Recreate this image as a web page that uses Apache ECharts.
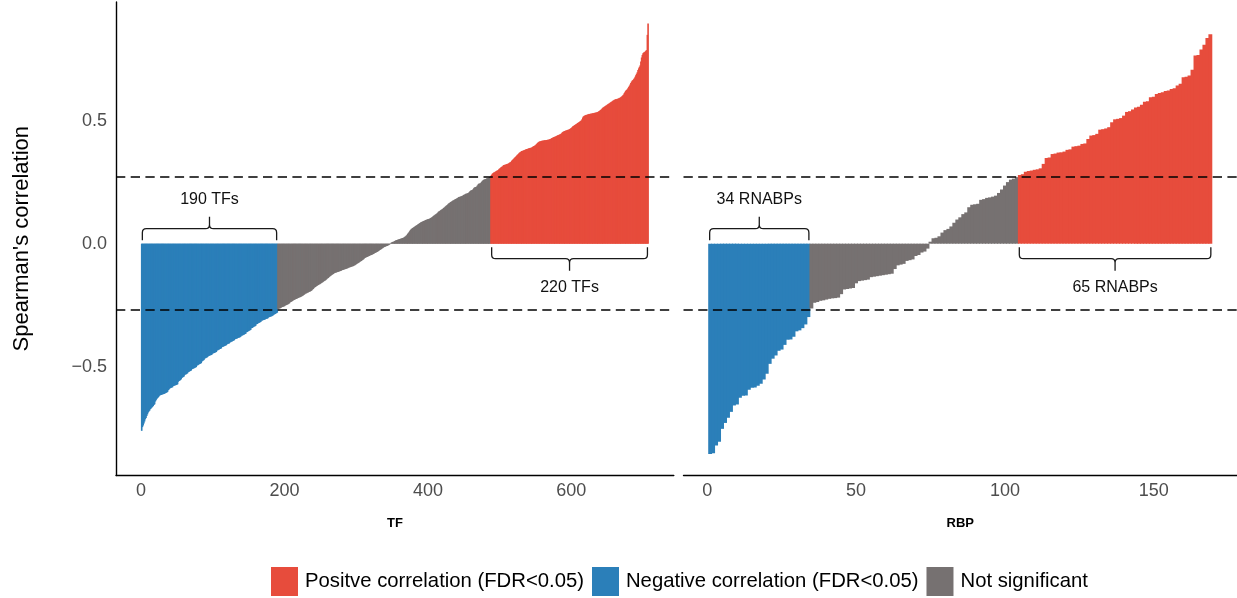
<!DOCTYPE html>
<html>
<head>
<meta charset="utf-8">
<script src="https://cdn.jsdelivr.net/npm/echarts@6/dist/echarts.min.js"></script>
<style>
  html, body { margin: 0; padding: 0; background: #ffffff; }
  #chart { width: 1237px; height: 598px; }
</style>
</head>
<body>
<div id="chart"></div>
<script>
// Ranked Spearman correlations, one bar per regulator, sorted ascending.
// TF panel: significant negative, not significant, significant positive.
const tfNegative = [
  -0.760,-0.745,-0.738,-0.730,-0.722,-0.713,-0.708,-0.700,-0.693,-0.686,
  -0.682,-0.678,-0.672,-0.669,-0.666,-0.663,-0.659,-0.655,-0.652,-0.641,
  -0.636,-0.631,-0.627,-0.624,-0.621,-0.617,-0.615,-0.614,-0.613,-0.612,
  -0.611,-0.610,-0.609,-0.607,-0.605,-0.604,-0.602,-0.595,-0.592,-0.589,
  -0.586,-0.585,-0.584,-0.583,-0.578,-0.577,-0.576,-0.575,-0.574,-0.573,
  -0.571,-0.561,-0.558,-0.556,-0.554,-0.551,-0.545,-0.543,-0.541,-0.539,
  -0.533,-0.531,-0.530,-0.528,-0.526,-0.521,-0.520,-0.518,-0.517,-0.515,
  -0.510,-0.509,-0.507,-0.506,-0.504,-0.503,-0.501,-0.495,-0.494,-0.492,
  -0.490,-0.489,-0.487,-0.485,-0.478,-0.476,-0.474,-0.471,-0.466,-0.465,
  -0.463,-0.462,-0.460,-0.456,-0.455,-0.454,-0.453,-0.452,-0.450,-0.446,
  -0.445,-0.444,-0.443,-0.441,-0.440,-0.434,-0.433,-0.431,-0.430,-0.428,
  -0.427,-0.425,-0.420,-0.419,-0.418,-0.416,-0.415,-0.414,-0.412,-0.408,
  -0.407,-0.406,-0.405,-0.401,-0.400,-0.398,-0.397,-0.395,-0.394,-0.392,
  -0.388,-0.387,-0.386,-0.385,-0.383,-0.382,-0.381,-0.380,-0.378,-0.374,
  -0.373,-0.372,-0.370,-0.369,-0.367,-0.366,-0.360,-0.359,-0.357,-0.355,
  -0.353,-0.352,-0.350,-0.343,-0.342,-0.340,-0.338,-0.336,-0.335,-0.333,
  -0.327,-0.326,-0.324,-0.322,-0.321,-0.319,-0.318,-0.313,-0.312,-0.311,
  -0.310,-0.309,-0.308,-0.306,-0.305,-0.304,-0.303,-0.299,-0.298,-0.297,
  -0.296,-0.295,-0.293,-0.292,-0.289,-0.287,-0.286,-0.284,-0.282,-0.280
];
const tfNeutral = [
  -0.266,-0.264,-0.263,-0.262,-0.261,-0.258,-0.257,-0.256,-0.255,-0.254,
  -0.251,-0.250,-0.249,-0.247,-0.246,-0.244,-0.242,-0.238,-0.237,-0.235,
  -0.233,-0.231,-0.229,-0.228,-0.226,-0.225,-0.224,-0.222,-0.221,-0.219,
  -0.218,-0.217,-0.216,-0.214,-0.212,-0.210,-0.208,-0.206,-0.203,-0.202,
  -0.201,-0.199,-0.198,-0.196,-0.195,-0.194,-0.192,-0.190,-0.187,-0.184,
  -0.181,-0.178,-0.176,-0.174,-0.172,-0.170,-0.168,-0.166,-0.165,-0.163,
  -0.161,-0.159,-0.157,-0.155,-0.153,-0.151,-0.149,-0.147,-0.144,-0.141,
  -0.139,-0.136,-0.134,-0.131,-0.129,-0.127,-0.125,-0.123,-0.121,-0.119,
  -0.118,-0.117,-0.116,-0.115,-0.114,-0.113,-0.112,-0.111,-0.110,-0.108,
  -0.107,-0.106,-0.105,-0.104,-0.103,-0.102,-0.101,-0.100,-0.098,-0.097,
  -0.096,-0.095,-0.094,-0.093,-0.092,-0.091,-0.089,-0.088,-0.086,-0.084,
  -0.082,-0.080,-0.078,-0.076,-0.074,-0.072,-0.070,-0.068,-0.066,-0.064,
  -0.061,-0.058,-0.057,-0.055,-0.054,-0.053,-0.051,-0.050,-0.048,-0.047,
  -0.046,-0.045,-0.043,-0.042,-0.040,-0.038,-0.037,-0.035,-0.034,-0.032,
  -0.030,-0.028,-0.026,-0.024,-0.022,-0.020,-0.018,-0.016,-0.014,-0.013,
  -0.011,-0.010,-0.009,-0.008,-0.006,-0.004,-0.002, 0.002, 0.004, 0.006,
   0.007, 0.008, 0.009, 0.011, 0.013, 0.014, 0.015, 0.016, 0.017, 0.018,
   0.019, 0.020, 0.021, 0.022, 0.023, 0.024, 0.026, 0.028, 0.030, 0.033,
   0.036, 0.040, 0.044, 0.048, 0.052, 0.056, 0.060, 0.062, 0.064, 0.066,
   0.068, 0.070, 0.072, 0.074, 0.076, 0.078, 0.080, 0.082, 0.084, 0.086,
   0.088, 0.089, 0.090, 0.092, 0.093, 0.094, 0.096, 0.097, 0.098, 0.099,
   0.100, 0.101, 0.102, 0.104, 0.106, 0.108, 0.110, 0.113, 0.115, 0.117,
   0.119, 0.121, 0.124, 0.127, 0.130, 0.132, 0.134, 0.136, 0.138, 0.140,
   0.142, 0.145, 0.147, 0.150, 0.152, 0.155, 0.157, 0.160, 0.163, 0.165,
   0.167, 0.169, 0.171, 0.173, 0.175, 0.176, 0.178, 0.180, 0.181, 0.183,
   0.185, 0.187, 0.189, 0.190, 0.191, 0.192, 0.193, 0.194, 0.196, 0.198,
   0.199, 0.201, 0.203, 0.203, 0.204, 0.206, 0.207, 0.210, 0.214, 0.216,
   0.217, 0.218, 0.221, 0.225, 0.228, 0.230, 0.230, 0.232, 0.236, 0.240,
   0.243, 0.244, 0.245, 0.247, 0.251, 0.255, 0.258, 0.260, 0.261, 0.262,
   0.263, 0.265, 0.266, 0.267, 0.268, 0.270, 0.272
];
const tfPositive = [
  0.276,0.280,0.284,0.287,0.289,0.290,0.292,0.294,0.296,0.297,
  0.299,0.302,0.305,0.307,0.310,0.312,0.314,0.317,0.319,0.320,
  0.321,0.322,0.323,0.324,0.325,0.327,0.329,0.331,0.333,0.337,
  0.340,0.343,0.346,0.349,0.352,0.355,0.358,0.361,0.364,0.367,
  0.370,0.372,0.374,0.376,0.377,0.378,0.379,0.380,0.382,0.383,
  0.384,0.385,0.386,0.387,0.388,0.389,0.390,0.391,0.393,0.395,
  0.397,0.398,0.400,0.403,0.406,0.409,0.412,0.414,0.415,0.416,
  0.417,0.418,0.418,0.419,0.419,0.420,0.420,0.421,0.421,0.422,
  0.422,0.423,0.424,0.425,0.427,0.429,0.430,0.432,0.433,0.434,
  0.435,0.437,0.438,0.440,0.441,0.442,0.443,0.445,0.447,0.450,
  0.453,0.455,0.457,0.458,0.459,0.460,0.461,0.462,0.463,0.464,
  0.466,0.468,0.470,0.473,0.476,0.478,0.480,0.482,0.484,0.486,
  0.488,0.490,0.492,0.494,0.496,0.498,0.501,0.505,0.512,0.517,
  0.519,0.521,0.522,0.523,0.524,0.525,0.526,0.527,0.527,0.528,
  0.528,0.529,0.530,0.530,0.531,0.532,0.532,0.533,0.534,0.535,
  0.537,0.539,0.541,0.543,0.546,0.549,0.552,0.554,0.556,0.558,
  0.560,0.562,0.564,0.566,0.568,0.570,0.572,0.574,0.576,0.578,
  0.580,0.582,0.584,0.585,0.586,0.587,0.588,0.589,0.590,0.592,
  0.593,0.595,0.597,0.600,0.603,0.606,0.612,0.617,0.621,0.624,
  0.627,0.631,0.636,0.641,0.646,0.652,0.658,0.662,0.665,0.668,
  0.672,0.678,0.684,0.690,0.696,0.705,0.712,0.718,0.724,0.740,
  0.756,0.766,0.773,0.776,0.778,0.780,0.783,0.786,0.848,0.894
];
// RBP panel, same grouping.
const rbpNegative = [
  -0.854,-0.851,-0.820,-0.804,-0.752,-0.728,-0.707,-0.683,-0.657,-0.653,
  -0.626,-0.618,-0.617,-0.593,-0.585,-0.584,-0.577,-0.569,-0.552,-0.528,
  -0.488,-0.467,-0.454,-0.435,-0.430,-0.411,-0.390,-0.389,-0.378,-0.356,
  -0.352,-0.343,-0.328,-0.298
];
const rbpNeutral = [
  -0.263,-0.240,-0.237,-0.232,-0.230,-0.227,-0.224,-0.222,-0.221,-0.219,
  -0.205,-0.186,-0.184,-0.182,-0.180,-0.161,-0.152,-0.150,-0.148,-0.146,
  -0.136,-0.134,-0.132,-0.130,-0.128,-0.126,-0.124,-0.122,-0.103,-0.088,
  -0.085,-0.082,-0.070,-0.067,-0.064,-0.050,-0.046,-0.036,-0.032,-0.020,
   0.008, 0.022, 0.024, 0.030, 0.045, 0.055, 0.060, 0.070, 0.085, 0.098,
   0.107, 0.120, 0.127, 0.148, 0.158, 0.160, 0.162, 0.178, 0.181, 0.186,
   0.188, 0.191, 0.195, 0.206, 0.220, 0.236, 0.250, 0.260, 0.264, 0.270
];
const rbpPositive = [
  0.279,0.282,0.292,0.295,0.297,0.300,0.302,0.306,0.324,0.348,
  0.350,0.364,0.366,0.370,0.371,0.374,0.381,0.383,0.394,0.396,
  0.398,0.405,0.407,0.425,0.439,0.441,0.446,0.463,0.465,0.468,
  0.473,0.493,0.505,0.507,0.510,0.520,0.535,0.538,0.545,0.553,
  0.556,0.564,0.576,0.578,0.595,0.597,0.608,0.612,0.615,0.620,
  0.622,0.628,0.631,0.642,0.649,0.676,0.678,0.683,0.706,0.764,
  0.766,0.789,0.808,0.835,0.850
];

const threshold = 0.273;          // significance cut-off drawn as dashed lines
const tfTicks = [0, 200, 400, 600];
const rbpTicks = [0, 50, 100, 150];
const corrTicks = [-0.5, 0, 0.5];

const POS = 'Positve correlation (FDR<0.05)';
const NEG = 'Negative correlation (FDR<0.05)';
const NS = 'Not significant';
const colors = { pos: '#E74C3C', neg: '#2B7FB9', ns: '#767171' };
const FONT = '"Liberation Sans", Arial, Helvetica, sans-serif';

// Rank positions: groups follow each other along the x axis starting at 1.
function ranked(groups) {
  let start = 1;
  return groups.map(values => {
    const rows = values.map((v, k) => [start + k, v, 0]);
    const range = [start - 0.5, start + values.length - 0.5];
    start += values.length;
    return { rows, range, count: values.length };
  });
}
const [tfN, tfS, tfP] = ranked([tfNegative, tfNeutral, tfPositive]);
const [rbN, rbS, rbP] = ranked([rbpNegative, rbpNeutral, rbpPositive]);

// ggplot-style 5% expansion of the data range
function expanded(lo, hi) { const p = (hi - lo) * 0.05; return [lo - p, hi + p]; }
const tfX = expanded(0.5, tfP.range[1]);
const rbX = expanded(0.5, rbP.range[1]);
const allVals = [].concat(tfNegative, tfNeutral, tfPositive, rbpNegative, rbpNeutral, rbpPositive);
const yExt = expanded(Math.min(...allVals), Math.max(...allVals));

// One rectangle per rank; a slight overlap keeps neighbouring bars seamless.
function renderBar(params, api) {
  const x = api.value(0), v = api.value(1);
  const a = api.coord([x - 0.5, v]);
  const b = api.coord([x + 0.5, 0]);
  return {
    type: 'rect',
    shape: { x: a[0] - 0.45, y: Math.min(a[1], b[1]), width: b[0] - a[0] + 0.9, height: Math.abs(b[1] - a[1]) },
    style: { fill: api.visual('color') }
  };
}
function bars(name, color, axis, group) {
  return {
    type: 'custom', name, xAxisIndex: axis, yAxisIndex: axis,
    data: group.rows, encode: { x: 0, y: 1 },
    itemStyle: { color }, renderItem: renderBar, silent: true, z: 2
  };
}

// Curly brace over (dir -1) or under (dir +1) a group of bars, with its count.
function braces(axis, items) {
  return {
    type: 'custom', xAxisIndex: axis, yAxisIndex: axis, silent: true, z: 4,
    data: items.map(d => [d.range[0], d.range[1], 0]),
    encode: { x: [0, 1], y: 2 },
    renderItem(params, api) {
      const d = items[params.dataIndex];
      const s = d.dir;
      const p1 = api.coord([api.value(0), 0]);
      const p2 = api.coord([api.value(1), 0]);
      const x1 = p1[0] + 1, x2 = p2[0] - 1, y0 = p1[1];
      const xm = (x1 + x2) / 2, r = 4;
      const yE = y0 + s * 3.5, yH = y0 + s * 15, yT = y0 + s * 27;
      const path =
        `M${x1} ${yE} L${x1} ${yH - s * r} Q${x1} ${yH} ${x1 + r} ${yH} ` +
        `L${xm - r} ${yH} Q${xm} ${yH} ${xm} ${yH + s * r} L${xm} ${yT} ` +
        `M${xm} ${yH + s * r} Q${xm} ${yH} ${xm + r} ${yH} ` +
        `L${x2 - r} ${yH} Q${x2} ${yH} ${x2} ${yH - s * r} L${x2} ${yE}`;
      return {
        type: 'group',
        children: [
          { type: 'path', shape: { pathData: path },
            style: { fill: 'none', stroke: '#1a1a1a', lineWidth: 1.3 } },
          { type: 'text',
            style: { text: d.text, x: xm, y: y0 + s * 44, align: 'center', verticalAlign: 'middle',
                     fill: '#111111', font: `16px ${FONT}` } }
        ]
      };
    }
  };
}

function thresholdLines(axis) {
  return {
    type: 'line', xAxisIndex: axis, yAxisIndex: axis, data: [], z: 5, silent: true,
    markLine: {
      silent: true, symbol: 'none', label: { show: false }, animation: false,
      lineStyle: { color: '#000000', width: 1.6, type: [9.3, 5.4] },
      data: [{ yAxis: threshold }, { yAxis: -threshold }]
    }
  };
}

const fmtCorr = v => (v < 0 ? '\u2212' : '') + Math.abs(v).toFixed(1);

const axisLineStyle = { color: '#000000', width: 1.4 };
function xAxis(i, ext, ticks, title) {
  return {
    gridIndex: i, type: 'value', min: ext[0], max: ext[1],
    axisLine: { show: true, onZero: false, lineStyle: axisLineStyle },
    axisTick: { show: false, customValues: ticks },
    splitLine: { show: false },
    axisLabel: { customValues: ticks, color: '#4D4D4D', fontSize: 18, fontFamily: FONT, margin: 7 },
    name: title, nameLocation: 'middle', nameGap: 41,
    nameTextStyle: { fontSize: 13, fontWeight: 'bold', color: '#000000', fontFamily: FONT }
  };
}
function yAxis(i) {
  return {
    gridIndex: i, type: 'value', min: yExt[0], max: yExt[1],
    axisLine: { show: i === 0, onZero: false, lineStyle: axisLineStyle },
    axisTick: { show: false, customValues: corrTicks },
    splitLine: { show: false },
    axisLabel: { show: i === 0, customValues: corrTicks, formatter: fmtCorr,
                 color: '#4D4D4D', fontSize: 18, fontFamily: FONT, margin: 9 },
    name: i === 0 ? "Spearman's correlation" : '',
    nameLocation: 'middle', nameGap: 83,
    nameTextStyle: { fontSize: 22, color: '#000000', fontFamily: FONT }
  };
}

const chart = echarts.init(document.getElementById('chart'), null, { renderer: 'canvas' });
chart.setOption({
  animation: false,
  backgroundColor: '#ffffff',
  grid: [
    { left: 116, top: 2, width: 557.8, height: 473.5 },
    { left: 683.5, top: 2, width: 560, height: 473.5 }
  ],
  xAxis: [xAxis(0, tfX, tfTicks, 'TF'), xAxis(1, rbX, rbpTicks, 'RBP')],
  yAxis: [yAxis(0), yAxis(1)],
  legend: {
    data: [POS, NEG, NS], left: 271, top: 567, padding: 0, icon: 'rect',
    itemWidth: 27, itemHeight: 29, itemGap: 8, selectedMode: false,
    textStyle: { fontSize: 20.3, color: '#000000', fontFamily: FONT, padding: [0, 0, 0, 2] }
  },
  series: [
    bars(NEG, colors.neg, 0, tfN), bars(NS, colors.ns, 0, tfS), bars(POS, colors.pos, 0, tfP),
    bars(NEG, colors.neg, 1, rbN), bars(NS, colors.ns, 1, rbS), bars(POS, colors.pos, 1, rbP),
    thresholdLines(0), thresholdLines(1),
    braces(0, [
      { range: tfN.range, dir: -1, text: `${tfN.count} TFs` },
      { range: tfP.range, dir: 1, text: `${tfP.count} TFs` }
    ]),
    braces(1, [
      { range: rbN.range, dir: -1, text: `${rbN.count} RNABPs` },
      { range: rbP.range, dir: 1, text: `${rbP.count} RNABPs` }
    ])
  ]
});
</script>
</body>
</html>
